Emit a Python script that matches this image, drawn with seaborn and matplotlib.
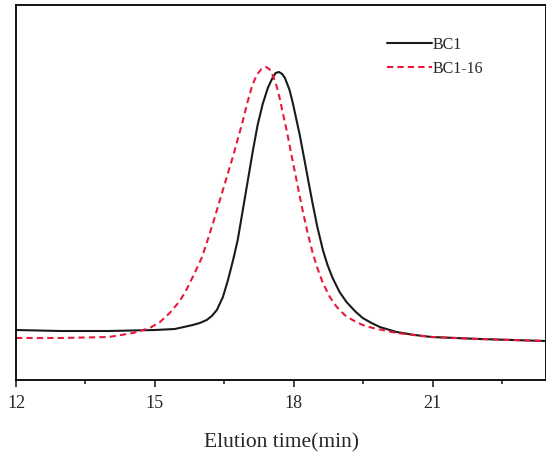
import seaborn as sns
import matplotlib.pyplot as plt
import pandas as pd

# elution curves (arbitrary intensity units)
bc1_time = [12.00, 12.95, 14.01, 15.00, 15.43, 15.82, 15.97, 16.12, 16.23, 16.34,
            16.47, 16.58, 16.69, 16.79, 16.90, 17.01, 17.12, 17.22, 17.33, 17.44,
            17.54, 17.61, 17.68, 17.75, 17.81, 17.91, 17.98, 18.06, 18.13, 18.24,
            18.32, 18.41, 18.51, 18.63, 18.73, 18.84, 18.99, 19.14, 19.32, 19.49,
            19.68, 19.86, 20.22, 20.61, 20.98, 22.02, 23.44]
bc1_signal = [50, 49, 49, 50, 51, 55, 57, 60, 64, 70,
              83, 100, 120, 140, 170, 200, 230, 255, 276, 292,
              302, 307, 308, 306, 302, 290, 277, 260, 245, 218,
              198, 176, 153, 130, 115, 102, 88, 78, 69, 62,
              57, 53, 48, 45, 43, 41, 39]

bc16_time = [12.00, 12.95, 14.01, 14.53, 14.89, 15.11, 15.32, 15.54, 15.69, 15.86,
             16.01, 16.12, 16.25, 16.36, 16.47, 16.58, 16.69, 16.84, 16.90, 16.99,
             17.10, 17.20, 17.30, 17.40, 17.47, 17.52, 17.63, 17.70, 17.76, 17.85,
             17.91, 17.96, 18.09, 18.19, 18.30, 18.41, 18.51, 18.63, 18.78, 18.93,
             19.10, 19.27, 19.49, 19.71, 20.22, 20.98, 22.02, 23.44]
bc16_signal = [42, 42, 43, 47, 52, 58, 67, 79, 91, 107,
               122, 137, 156, 173, 190, 207, 224, 249, 259, 276,
               294, 305, 311, 313, 311, 308, 294, 281, 268, 249,
               235, 223, 193, 170, 147, 127, 112, 97, 83, 73,
               65, 60, 55, 52, 47, 43, 41, 39]

x_ticks = [12, 15, 18, 21]

df = pd.concat([
    pd.DataFrame({'time': bc1_time, 'signal': bc1_signal, 'sample': 'BC1'}),
    pd.DataFrame({'time': bc16_time, 'signal': bc16_signal, 'sample': 'BC1-16'}),
])

sns.set_style("ticks")
plt.rcParams['font.family'] = ['Liberation Serif', 'DejaVu Serif']

fig = plt.figure(figsize=(5.46, 4.54), dpi=100)
ax = fig.add_axes([16 / 546, 74 / 454, 530 / 546, 375 / 454])

sns.lineplot(data=df, x='time', y='signal', hue='sample', style='sample',
             palette={'BC1': '#1a1a1a', 'BC1-16': '#e8193a'},
             dashes={'BC1': '', 'BC1-16': (3, 2)},
             linewidth=1.5, estimator=None, sort=False, ax=ax)

ax.set_xlim(12, 23.45)
ax.set_ylim(0, 375)
ax.set_xticks(x_ticks)
ax.set_xticks([13.5, 16.5, 19.5, 22.5], minor=True)
ax.set_yticks([])
ax.tick_params(axis='x', which='major', direction='out', length=5, width=1.2,
               labelsize=13, pad=6)
ax.tick_params(axis='x', which='minor', direction='out', length=3, width=1.2)
for side in ['left', 'bottom', 'top', 'right']:
    ax.spines[side].set_linewidth(1.3)
    ax.spines[side].set_color('black')

ax.set_xlabel('Elution time(min)', fontsize=15.5, labelpad=15)
ax.set_ylabel('')

leg = ax.legend(loc='upper left', bbox_to_anchor=(0.70, 0.915), frameon=False,
                fontsize=11.5, handlelength=2.8, handletextpad=0.05,
                labelspacing=0.5, borderaxespad=0, borderpad=0)

fig.savefig('out.png', dpi=100)
